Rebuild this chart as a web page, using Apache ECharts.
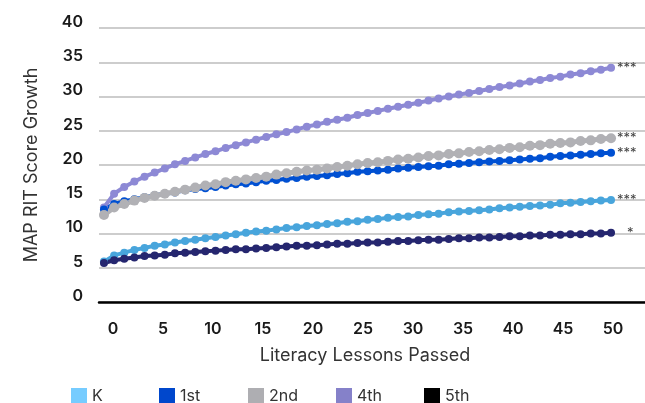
<!DOCTYPE html>
<html>
<head>
<meta charset="utf-8">
<script src="https://cdn.jsdelivr.net/npm/echarts/dist/echarts.min.js"></script>
<style>
html,body{margin:0;padding:0;background:#fff;}
#chart{width:645px;height:403px;}
</style>
</head>
<body>
<div id="chart"></div>
<script>
const lessons = [0,1,2,3,4,5,6,7,8,9,10,11,12,13,14,15,16,17,18,19,20,21,22,23,24,25,26,27,28,29,30,31,32,33,34,35,36,37,38,39,40,41,42,43,44,45,46,47,48,49,50];
const gradeK = [5.9,6.8,7.2,7.6,7.9,8.2,8.4,8.7,8.9,9.1,9.3,9.5,9.7,9.9,10.1,10.3,10.4,10.6,10.8,10.9,11.1,11.2,11.4,11.5,11.7,11.8,12.0,12.1,12.3,12.4,12.5,12.7,12.8,12.9,13.1,13.2,13.3,13.4,13.5,13.7,13.8,13.9,14.0,14.1,14.2,14.4,14.5,14.6,14.7,14.8,14.9];
const grade1 = [13.5,14.3,14.7,15.0,15.3,15.6,15.8,16.0,16.3,16.5,16.6,16.8,17.0,17.2,17.3,17.5,17.7,17.8,18.0,18.1,18.3,18.4,18.5,18.7,18.8,19.0,19.1,19.2,19.3,19.5,19.6,19.7,19.8,19.9,20.1,20.2,20.3,20.4,20.5,20.6,20.7,20.8,20.9,21.0,21.2,21.3,21.4,21.5,21.6,21.7,21.8];
const grade2 = [12.7,13.8,14.3,14.8,15.2,15.5,15.8,16.1,16.4,16.7,17.0,17.2,17.5,17.7,17.9,18.1,18.3,18.6,18.8,19.0,19.2,19.3,19.5,19.7,19.9,20.1,20.3,20.4,20.6,20.8,20.9,21.1,21.3,21.4,21.6,21.7,21.9,22.0,22.2,22.3,22.5,22.6,22.8,22.9,23.1,23.2,23.3,23.5,23.6,23.8,23.9];
const grade4 = [13.8,15.8,16.8,17.6,18.3,18.9,19.5,20.1,20.6,21.1,21.6,22.0,22.5,22.9,23.3,23.7,24.1,24.5,24.8,25.2,25.6,25.9,26.3,26.6,26.9,27.3,27.6,27.9,28.2,28.5,28.8,29.1,29.4,29.7,30.0,30.3,30.5,30.8,31.1,31.4,31.6,31.9,32.2,32.4,32.7,32.9,33.2,33.4,33.7,33.9,34.2];
const grade5 = [5.7,6.1,6.3,6.5,6.7,6.8,6.9,7.1,7.2,7.3,7.4,7.5,7.6,7.7,7.7,7.8,7.9,8.0,8.1,8.2,8.2,8.3,8.4,8.5,8.5,8.6,8.7,8.7,8.8,8.9,8.9,9.0,9.1,9.1,9.2,9.3,9.3,9.4,9.4,9.5,9.6,9.6,9.7,9.7,9.8,9.8,9.9,9.9,10.0,10.0,10.1];
const gradeNames = ['K','1st','2nd','4th','5th'];
const sigMarks = ['***','***','***','***','*'];
const xTicks = [0,5,10,15,20,25,30,35,40,45,50];
const yTicks = [0,5,10,15,20,25,30,35,40];

const lineColors = {'K':'#48A5DC','1st':'#0050D2','2nd':'#B1B1B5','4th':'#8D89D5','5th':'#25266F'};
const legendColors = {'K':'#76CCFF','1st':'#0047CC','2nd':'#AEAEB2','4th':'#8581C9','5th':'#000000'};
const seriesValues = {'K':gradeK,'1st':grade1,'2nd':grade2,'4th':grade4,'5th':grade5};
const drawOrder = ['K','4th','1st','2nd','5th'];
const legendLeft = [71,159,248,336,424];

const FONT = 'Inter';

function makeSeries(name){
  const idx = gradeNames.indexOf(name);
  const vals = seriesValues[name];
  const big = name === '2nd';
  return {
    name: name,
    type: 'line',
    xAxisIndex: 0,
    yAxisIndex: 0,
    data: lessons.map((x,i)=>[x, vals[i]]),
    symbol: 'circle',
    symbolSize: big ? 10 : 8,
    showAllSymbol: true,
    lineStyle: {color: lineColors[name], width: big ? 5 : 4},
    itemStyle: {color: lineColors[name]},
    emphasis: {disabled: true},
    endLabel: {
      show: true,
      formatter: sigMarks[idx],
      color: '#444',
      fontFamily: FONT,
      fontSize: 13,
      distance: 6,
      offset: sigMarks[idx].length === 1 ? [10, 0] : [0, 0]
    }
  };
}

const chart = echarts.init(document.getElementById('chart'), null, {renderer:'canvas'});
const option = {
  animation: false,
  backgroundColor: '#ffffff',
  textStyle: {fontFamily: FONT},
  grid: {left: 99, right: 0, top: 28, bottom: 101, containLabel: false},
  legend: gradeNames.map((n,i)=>({
    data: [{name: n, itemStyle: {color: legendColors[n]}, icon: 'rect'}],
    left: legendLeft[i],
    top: 388,
    padding: 0,
    itemWidth: 16,
    itemHeight: 16,
    selectedMode: false,
    textStyle: {fontFamily: FONT, fontSize: 16, color: '#333', padding: [0,0,0,0]}
  })),
  xAxis: [
    {
      type: 'value',
      position: 'bottom',
      min: -0.49,
      max: 53.35,
      axisLine: {show: true, lineStyle: {color: '#000', width: 2.5}},
      axisTick: {show: false},
      axisLabel: {show: false},
      splitLine: {show: false}
    },
    {
      type: 'value',
      position: 'bottom',
      min: -1.4,
      max: 53.2,
      axisLine: {show: false},
      axisTick: {show: false},
      splitLine: {show: false},
      axisLabel: {
        customValues: xTicks,
        margin: 19,
        fontFamily: FONT,
        fontSize: 16,
        fontWeight: 600,
        color: '#1a1a1a'
      },
      name: 'Literacy Lessons Passed',
      nameLocation: 'middle',
      nameGap: 45,
      nameTextStyle: {fontFamily: FONT, fontSize: 18, color: '#333', padding: [0, 14, 0, 0]}
    }
  ],
  yAxis: {
    type: 'value',
    min: 0,
    max: 40,
    interval: 5,
    axisLine: {show: false},
    axisTick: {show: false},
    splitLine: {show: true, lineStyle: {color: '#BDBDBD', width: 1.5}},
    axisLabel: {
      customValues: yTicks,
      align: 'right',
      verticalAlign: 'bottom',
      lineHeight: 12,
      margin: 16,
      fontFamily: FONT,
      fontSize: 16,
      fontWeight: 600,
      color: '#1a1a1a'
    },
    name: 'MAP RIT Score Growth',
    nameLocation: 'middle',
    nameGap: 58,
    nameRotate: 90,
    nameTextStyle: {fontFamily: FONT, fontSize: 18, color: '#333'}
  },
  series: drawOrder.map(makeSeries)
};
chart.setOption(option);
</script>
</body>
</html>
